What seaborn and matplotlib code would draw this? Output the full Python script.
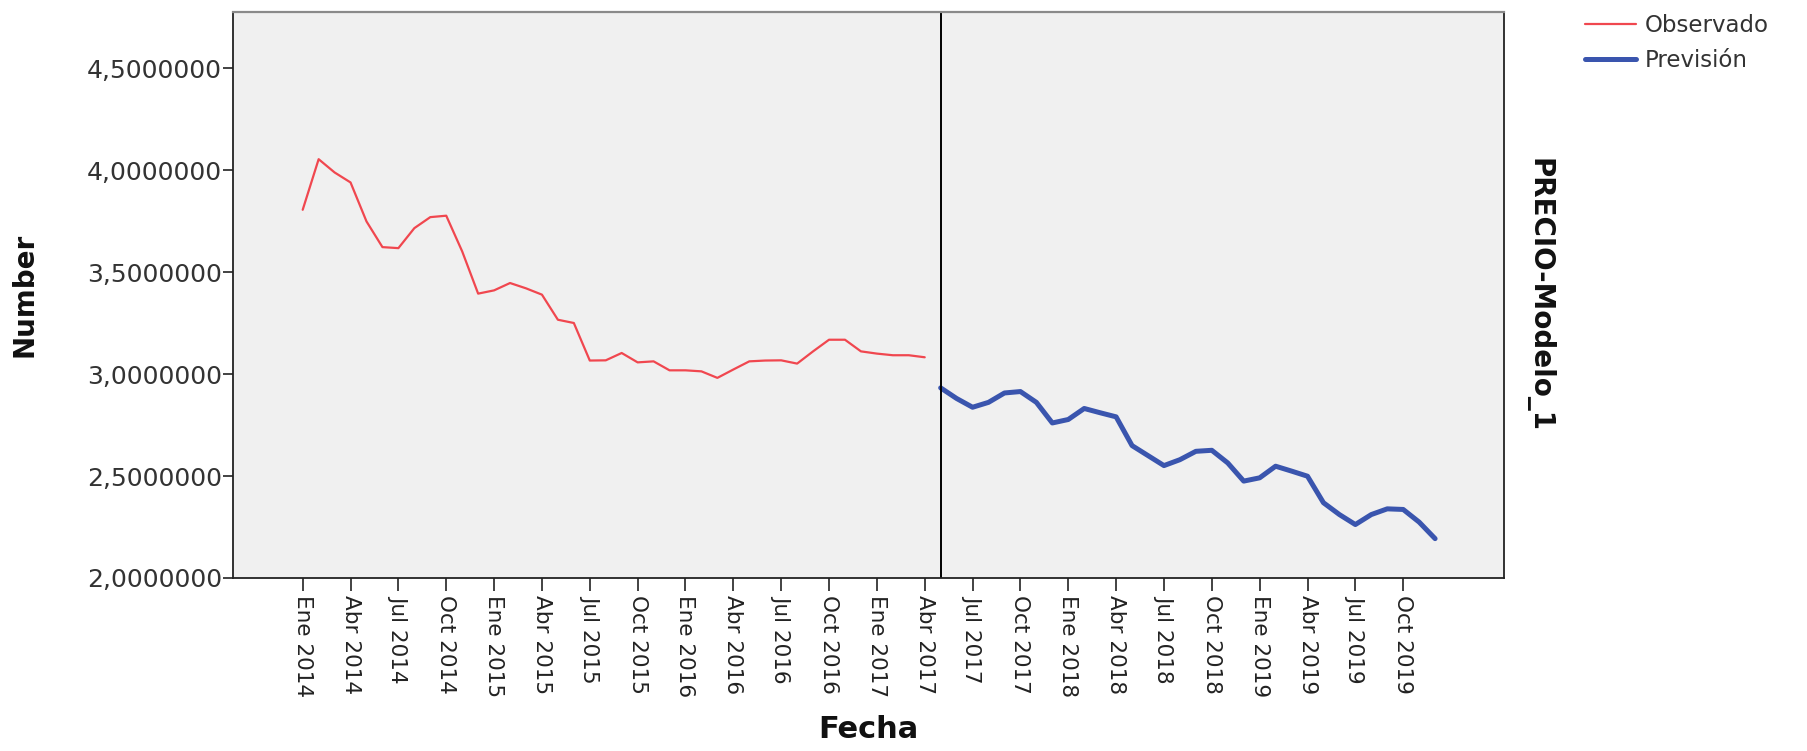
import matplotlib
matplotlib.use("Agg")
import matplotlib.pyplot as plt
import seaborn as sns
import pandas as pd
from matplotlib.ticker import FuncFormatter

# ---- data (monthly, Ene 2014 .. Dic 2019) ----
observado = [3.805, 4.053, 3.988, 3.939, 3.748, 3.622, 3.617, 3.715, 3.769, 3.776,
             3.601, 3.394, 3.410, 3.446, 3.420, 3.389, 3.266, 3.250, 3.066, 3.067,
             3.103, 3.057, 3.062, 3.018, 3.018, 3.013, 2.981, 3.022, 3.062, 3.066,
             3.067, 3.051, 3.111, 3.168, 3.168, 3.111, 3.100, 3.092, 3.092, 3.082]
prevision = [2.932, 2.880, 2.837, 2.861, 2.907, 2.914, 2.861, 2.760, 2.777, 2.831,
             2.810, 2.790, 2.649, 2.600, 2.551, 2.580, 2.621, 2.626, 2.564, 2.475,
             2.491, 2.548, 2.524, 2.499, 2.369, 2.311, 2.262, 2.311, 2.339, 2.336,
             2.274, 2.193]
tick_labels = ["Ene 2014", "Abr 2014", "Jul 2014", "Oct 2014",
               "Ene 2015", "Abr 2015", "Jul 2015", "Oct 2015",
               "Ene 2016", "Abr 2016", "Jul 2016", "Oct 2016",
               "Ene 2017", "Abr 2017", "Jul 2017", "Oct 2017",
               "Ene 2018", "Abr 2018", "Jul 2018", "Oct 2018",
               "Ene 2019", "Abr 2019", "Jul 2019", "Oct 2019"]
series_names = ["Observado", "Previsión"]
y_ticks = [2.0, 2.5, 3.0, 3.5, 4.0, 4.5]

n_obs = len(observado)
df_obs = pd.DataFrame({"mes": list(range(n_obs)), "valor": observado})
df_prev = pd.DataFrame({"mes": list(range(n_obs, n_obs + len(prevision))), "valor": prevision})

sns.set_style("ticks")
plt.rcParams["font.family"] = ["DejaVu Sans"]

RED = "#F0474F"
BLUE = "#3A55AE"

fig = plt.figure(figsize=(18.08, 7.51), dpi=100)
ax = fig.add_axes([233 / 1808, 1 - 578 / 751, (1504 - 233) / 1808, (578 - 11.5) / 751])
ax.set_facecolor("#F0F0F0")

sns.lineplot(data=df_obs, x="mes", y="valor", color=RED, linewidth=1.6, ax=ax, label=series_names[0])
sns.lineplot(data=df_prev, x="mes", y="valor", color=BLUE, linewidth=3.6, ax=ax, label=series_names[1])
ax.axvline(n_obs, color="black", linewidth=1.4)

ax.set_xlim(-4.37, 75.32)
ax.set_ylim(2.0, 4.777)

ax.set_xticks(list(range(0, 3 * len(tick_labels), 3)))
ax.set_xticklabels(tick_labels, rotation=270, fontsize=15.5, color="#222222", va="top", ha="center")
ax.set_yticks(y_ticks)
ax.yaxis.set_major_formatter(FuncFormatter(lambda v, p: f"{v:.7f}".replace(".", ",")))
ax.tick_params(axis="y", labelsize=18, labelcolor="#333333", length=7, width=1.2, pad=1, color="#222222")
ax.tick_params(axis="x", length=9, width=1.2, pad=3, color="#222222")

for side in ["left", "bottom", "right"]:
    ax.spines[side].set_color("#222222")
    ax.spines[side].set_linewidth(1.3)
ax.spines["top"].set_color("#8A8A8A")
ax.spines["top"].set_linewidth(1.6)

ax.set_xlabel("Fecha", fontsize=22, fontweight="bold", color="#111111", va="center")
ax.xaxis.set_label_coords(0.5, -0.268)
ax.set_ylabel("Number", fontsize=20, fontweight="bold", color="#111111", va="center")
ax.yaxis.set_label_coords(-0.1637, 0.5)

ax.text(1.0275, 0.5, "PRECIO-Modelo_1", transform=ax.transAxes, rotation=270,
        fontsize=20, fontweight="bold", ha="center", va="center", color="#111111")

handles, labels = ax.get_legend_handles_labels()
ax.get_legend().remove()
fig.legend(handles, labels, loc="upper left", bbox_to_anchor=(1576 / 1808, 1 - 5 / 751),
           frameon=False, fontsize=16.5, handlelength=2.2, handletextpad=0.4,
           labelspacing=0.5, borderaxespad=0, labelcolor="#333333")

fig.savefig("out.png", dpi=100)
